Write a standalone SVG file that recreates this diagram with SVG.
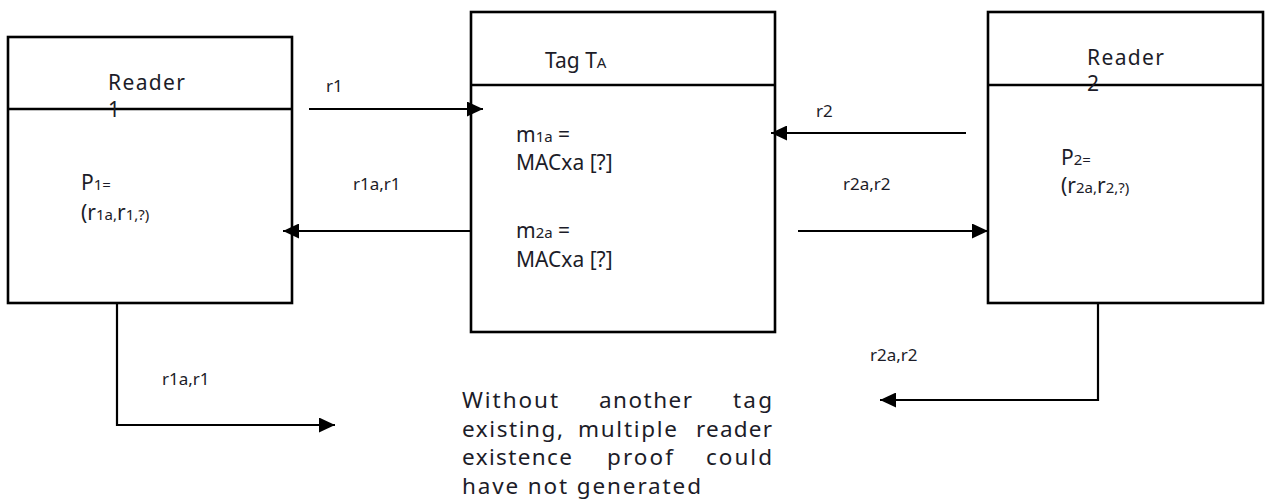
<svg xmlns="http://www.w3.org/2000/svg" width="1266" height="501" viewBox="0 0 1266 501">
<style>
.box{fill:#fff;stroke:#000;stroke-width:2.6}
.ln{fill:none;stroke:#000;stroke-width:2.4}
.c{stroke:#000;stroke-width:2.2;fill:none;marker-end:url(#ah)}
text{font-family:"Noto Sans","DejaVu Sans",sans-serif;fill:#1c1c28}
.h{font-size:21px}
.b{font-size:21px}
.s{font-size:15px}
.l{font-size:17px}
.t{font-size:22.5px}
</style>
<defs>
<marker id="ah" markerUnits="userSpaceOnUse" markerWidth="17" markerHeight="15" refX="16" refY="7.5" orient="auto">
<path d="M0,0 L16,7.5 L0,15 z" fill="#000"/>
</marker>
</defs>
<g id="reader1">
<rect class="box" x="8" y="37" width="284" height="266"/>
<line class="ln" x1="8" y1="109" x2="292" y2="109"/>
<text class="h" x="108" y="90" textLength="77">Reader</text>
<text class="h" x="108" y="117">1</text>
<text class="b" x="81" y="190">P<tspan class="s">1=</tspan></text>
<text class="b" x="81" y="220">(r<tspan class="s">1a,</tspan>r<tspan class="s">1,?)</tspan></text>
</g>
<g id="tag">
<rect class="box" x="471" y="12" width="304" height="320"/>
<line class="ln" x1="471" y1="85" x2="775" y2="85"/>
<text class="h" x="545" y="68">Tag T<tspan class="s">A</tspan></text>
<text class="b" x="516" y="142">m<tspan class="s">1a</tspan> =</text>
<text class="b" x="516" y="170">MACxa [?]</text>
<text class="b" x="516" y="238">m<tspan class="s">2a</tspan> =</text>
<text class="b" x="516" y="267">MACxa [?]</text>
</g>
<g id="reader2">
<rect class="box" x="988" y="12" width="275" height="291"/>
<line class="ln" x1="988" y1="85" x2="1263" y2="85"/>
<text class="h" x="1087" y="65" textLength="77">Reader</text>
<text class="h" x="1087" y="91">2</text>
<text class="b" x="1061" y="165">P<tspan class="s">2=</tspan></text>
<text class="b" x="1061" y="193">(r<tspan class="s">2a,</tspan>r<tspan class="s">2,?)</tspan></text>
</g>
<g id="connectors">
<line class="c" x1="309" y1="109" x2="483" y2="109"/>
<line class="c" x1="471" y1="231" x2="283" y2="231"/>
<line class="c" x1="966" y1="133" x2="771" y2="133"/>
<line class="c" x1="798" y1="231" x2="988" y2="231"/>
<polyline class="c" points="117,303 117,425 335,425"/>
<polyline class="c" points="1098,303 1098,400 880,400"/>
<text class="l" x="326" y="92">r1</text>
<text class="l" x="353" y="190">r1a,r1</text>
<text class="l" x="816" y="117">r2</text>
<text class="l" x="843" y="190">r2a,r2</text>
<text class="l" x="162" y="385">r1a,r1</text>
<text class="l" x="870" y="361">r2a,r2</text>
</g>
<g id="note">
<text class="t" x="462" y="408" textLength="96">Without</text>
<text class="t" x="599" y="408" textLength="93">another</text>
<text class="t" x="733" y="408" textLength="39">tag</text>
<text class="t" x="462" y="437" textLength="101">existing,</text>
<text class="t" x="578" y="437" textLength="99">multiple</text>
<text class="t" x="696" y="437" textLength="76">reader</text>
<text class="t" x="462" y="465" textLength="110">existence</text>
<text class="t" x="607" y="465" textLength="66">proof</text>
<text class="t" x="706" y="465" textLength="66">could</text>
<text class="t" x="462" y="494" textLength="239">have not generated</text>
</g>
</svg>
